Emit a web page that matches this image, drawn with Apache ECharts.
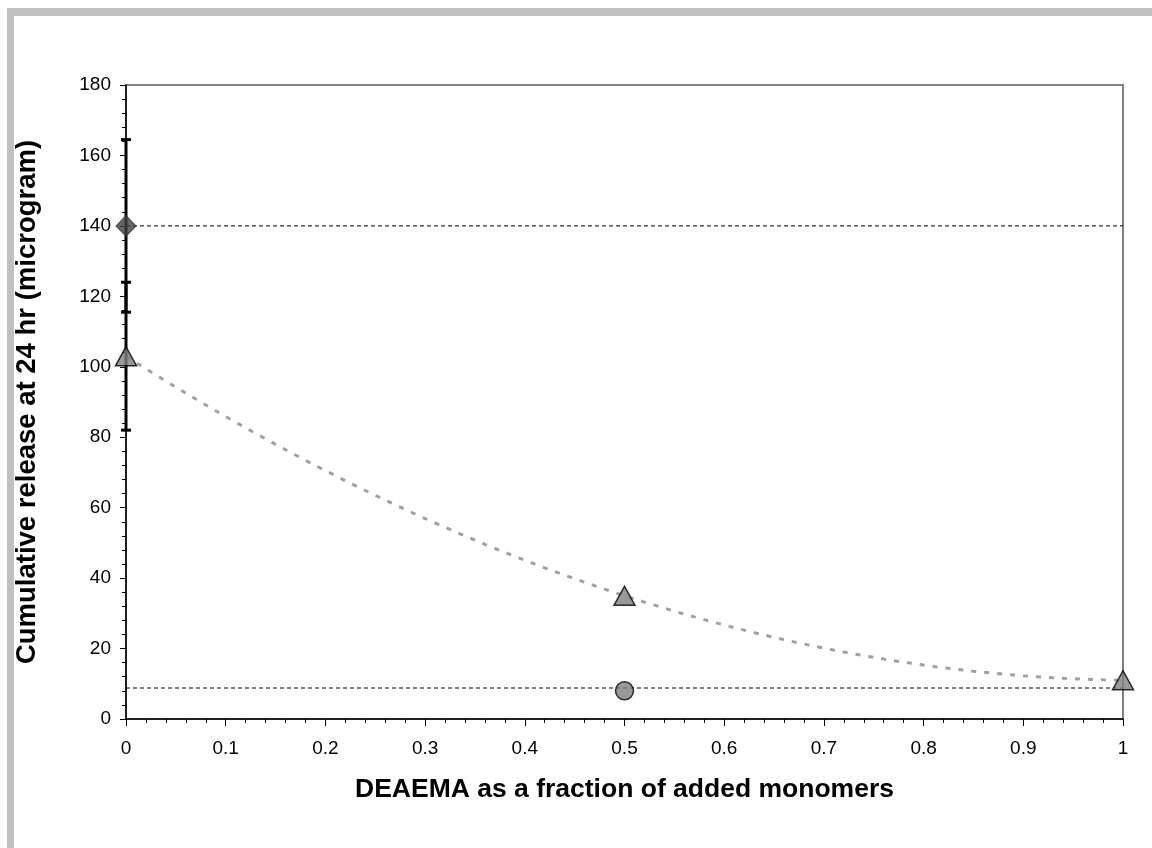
<!DOCTYPE html>
<html>
<head>
<meta charset="utf-8">
<script src="https://cdn.jsdelivr.net/npm/echarts@6/dist/echarts.min.js"></script>
<style>
  html, body { margin: 0; padding: 0; background: #ffffff; }
  #chart { width: 1152px; height: 848px; }
</style>
</head>
<body>
<div id="chart"></div>
<script>
// Cumulative release at 24 hr vs. DEAEMA fraction
const xTicks = [0, 0.1, 0.2, 0.3, 0.4, 0.5, 0.6, 0.7, 0.8, 0.9, 1];
const yTicks = [0, 20, 40, 60, 80, 100, 120, 140, 160, 180];

// diamond series (reference at fraction 0) with its error
const diamondX = [0];
const diamondY = [140];
const diamondErr = [24.5];

// triangle series
const triangleX = [0, 0.5, 1];
const triangleY = [103, 35, 11];
const triangleErr = [21, 0, 0];

// circle series
const circleX = [0.5];
const circleY = [8];

// horizontal reference levels
const refLevels = [140, 8.8];

// second-order polynomial trendline fitted to the triangle series
function polyFit2(xs, ys) {
  // least squares normal equations for y = a + b x + c x^2
  const s = [0, 0, 0, 0, 0], t = [0, 0, 0];
  for (let i = 0; i < xs.length; i++) {
    let p = 1;
    for (let k = 0; k < 5; k++) { s[k] += p; p *= xs[i]; }
    p = 1;
    for (let k = 0; k < 3; k++) { t[k] += p * ys[i]; p *= xs[i]; }
  }
  const M = [[s[0], s[1], s[2], t[0]], [s[1], s[2], s[3], t[1]], [s[2], s[3], s[4], t[2]]];
  for (let i = 0; i < 3; i++) {
    for (let j = i + 1; j < 3; j++) {
      const f = M[j][i] / M[i][i];
      for (let k = i; k < 4; k++) M[j][k] -= f * M[i][k];
    }
  }
  const c = [0, 0, 0];
  for (let i = 2; i >= 0; i--) {
    let v = M[i][3];
    for (let k = i + 1; k < 3; k++) v -= M[i][k] * c[k];
    c[i] = v / M[i][i];
  }
  return c;
}
const coef = polyFit2(triangleX, triangleY);
const trend = [];
for (let i = 0; i <= 100; i++) {
  const x = i / 100;
  trend.push([x, coef[0] + coef[1] * x + coef[2] * x * x]);
}

const errData = [];
diamondX.forEach((x, i) => errData.push([x, diamondY[i] - diamondErr[i], diamondY[i] + diamondErr[i]]));
triangleX.forEach((x, i) => { if (triangleErr[i] > 0) errData.push([x, triangleY[i] - triangleErr[i], triangleY[i] + triangleErr[i]]); });

const chart = echarts.init(document.getElementById('chart'), null, { renderer: 'canvas' });
const font = '"Liberation Sans", Arial, sans-serif';

chart.setOption({
  animation: false,
  backgroundColor: '#ffffff',
  graphic: [
    { type: 'rect', shape: { x: 7, y: 8, width: 1145, height: 8 }, style: { fill: '#c0c0c0' }, silent: true },
    { type: 'rect', shape: { x: 7, y: 8, width: 7, height: 840 }, style: { fill: '#c0c0c0' }, silent: true }
  ],
  grid: {
    left: 126, top: 85, right: 29, bottom: 129,
    show: true, borderColor: '#808080', borderWidth: 2, backgroundColor: '#ffffff'
  },
  xAxis: {
    type: 'value', min: 0, max: 1, interval: 0.1,
    name: 'DEAEMA as a fraction of added monomers',
    nameLocation: 'middle', nameGap: 57,
    nameTextStyle: { fontFamily: font, fontSize: 26.5, fontWeight: 'bold', color: '#000' },
    axisLine: { show: true, onZero: false, lineStyle: { color: '#000', width: 1.5 } },
    axisTick: { show: true, inside: false, length: 7, lineStyle: { color: '#000', width: 1 } },
    minorTick: { show: true, splitNumber: 5, length: 4, lineStyle: { color: '#000', width: 1 } },
    splitLine: { show: false },
    axisLabel: {
      fontFamily: font, fontSize: 19, color: '#000', margin: 20,
      formatter: v => { const t = xTicks.find(a => Math.abs(a - v) < 1e-9); return t === undefined ? '' : String(t); }
    }
  },
  yAxis: {
    type: 'value', min: 0, max: 180, interval: 20,
    name: 'Cumulative release at 24 hr (microgram)',
    nameLocation: 'middle', nameGap: 85,
    nameTextStyle: { fontFamily: font, fontSize: 27.5, fontWeight: 'bold', color: '#000' },
    axisLine: { show: true, onZero: false, lineStyle: { color: '#000', width: 1.5 } },
    axisTick: { show: true, inside: false, length: 6, lineStyle: { color: '#000', width: 1 } },
    minorTick: { show: true, splitNumber: 5, length: 4, lineStyle: { color: '#000', width: 1 } },
    splitLine: { show: false },
    axisLabel: {
      fontFamily: font, fontSize: 19, color: '#000', margin: 15,
      formatter: v => { const t = yTicks.find(a => Math.abs(a - v) < 1e-9); return t === undefined ? '' : String(t); }
    }
  },
  series: [
    {
      name: 'refHigh', type: 'line', symbol: 'none', silent: true, z: 2,
      data: [[0, refLevels[0]], [1, refLevels[0]]],
      lineStyle: { color: '#000', width: 1, type: [4, 3] }
    },
    {
      name: 'refLow', type: 'line', symbol: 'none', silent: true, z: 2,
      data: [[0, refLevels[1]], [1, refLevels[1]]],
      lineStyle: { color: '#000', width: 1, type: [4, 3] }
    },
    {
      name: 'trend', type: 'line', symbol: 'none', silent: true, z: 3,
      data: trend, smooth: false,
      lineStyle: { color: '#a0a0a0', width: 3, type: [5, 8] }
    },
    {
      name: 'errors', type: 'custom', z: 4, silent: true,
      data: errData,
      renderItem: (params, api) => {
        const x = api.value(0);
        const lo = api.coord([x, api.value(1)]);
        const hi = api.coord([x, api.value(2)]);
        const cap = 5;
        return {
          type: 'group',
          children: [
            { type: 'line', shape: { x1: lo[0], y1: lo[1], x2: hi[0], y2: hi[1] }, style: { stroke: '#000', lineWidth: 3 } },
            { type: 'line', shape: { x1: lo[0] - cap, y1: lo[1], x2: lo[0] + cap, y2: lo[1] }, style: { stroke: '#000', lineWidth: 3 } },
            { type: 'line', shape: { x1: hi[0] - cap, y1: hi[1], x2: hi[0] + cap, y2: hi[1] }, style: { stroke: '#000', lineWidth: 3 } }
          ]
        };
      }
    },
    {
      name: 'diamond', type: 'scatter', z: 5, symbol: 'diamond', symbolSize: [20, 21],
      data: diamondX.map((x, i) => [x, diamondY[i]]),
      itemStyle: { color: '#404040', borderColor: '#303030', borderWidth: 1 }
    },
    {
      name: 'triangle', type: 'scatter', z: 5, symbol: 'triangle', symbolSize: [21, 19],
      data: triangleX.map((x, i) => [x, triangleY[i]]),
      itemStyle: { color: '#808080', borderColor: '#000', borderWidth: 1.5 }
    },
    {
      name: 'circle', type: 'scatter', z: 5, symbol: 'circle', symbolSize: 18,
      data: circleX.map((x, i) => [x, circleY[i]]),
      itemStyle: { color: '#808080', borderColor: '#000', borderWidth: 1.5 }
    }
  ]
});
</script>
</body>
</html>
